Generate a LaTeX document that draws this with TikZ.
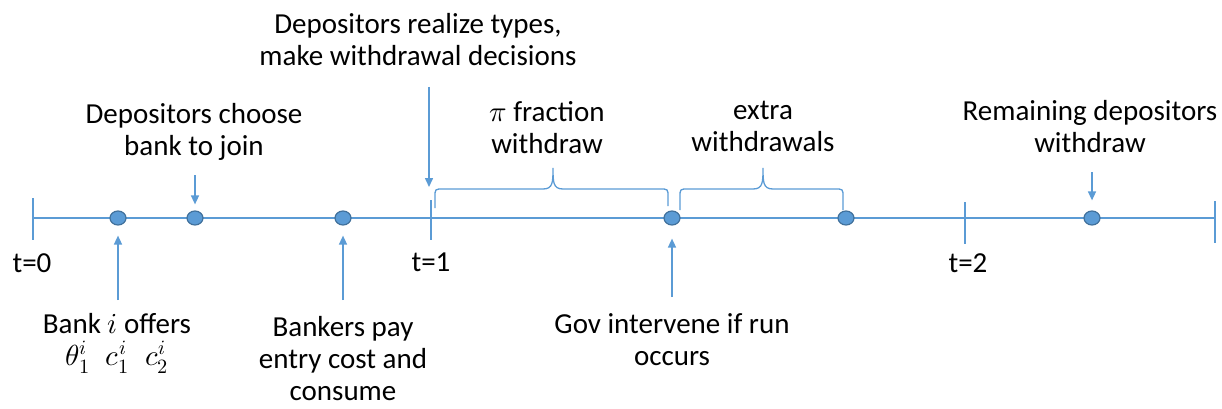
\documentclass[tikz,border=0pt]{standalone}
\usepackage{fontspec}
\usepackage{unicode-math}
\setmainfont{Carlito}
\setmathfont{Latin Modern Math}
\usetikzlibrary{arrows.meta,shapes.geometric}
\definecolor{tlblue}{HTML}{5B9BD5}
\definecolor{dotedge}{HTML}{41719C}
\begin{document}
\begin{tikzpicture}[x=1pt,y=-1pt,
  line/.style={draw=tlblue,line width=1.5pt},
  arr/.style={line,-{Triangle[width=8pt,length=9pt]}},
  dot/.style={ellipse,fill=tlblue,draw=dotedge,line width=1.2pt,minimum width=16pt,minimum height=14pt,inner sep=0pt},
  lbl/.style={font=\fontsize{29}{32}\selectfont,align=center,inner sep=0pt,anchor=north},
  wbrace/.style={draw=tlblue,line width=1.3pt}]
\useasboundingbox (0,0) rectangle (1222,409);
% timeline
\coordinate (L) at (33,218);
\coordinate (R) at (1215,218);
\draw[line] (L) -- (R);
% ticks
\coordinate (t0a) at (33,198); \coordinate (t0b) at (33,240);
\coordinate (t1a) at (431,200); \coordinate (t1b) at (431,240);
\coordinate (t2a) at (965,202); \coordinate (t2b) at (965,244);
\coordinate (tea) at (1215,201); \coordinate (teb) at (1215,243);
\draw[line] (t0a) -- (t0b);
\draw[line] (t1a) -- (t1b);
\draw[line] (t2a) -- (t2b);
\draw[line] (tea) -- (teb);
% braces
\draw[wbrace] (435,208) -- (435,197) .. controls (435,189) .. (443,189) -- (543,189)
  .. controls (553,189) and (553,182) .. (553,168)
  .. controls (553,182) and (553,189) .. (563,189) -- (660,189)
  .. controls (668,189) .. (668,197) -- (668,206);
\draw[wbrace] (680,210) -- (680,197) .. controls (680,189) .. (688,189) -- (753,189)
  .. controls (763,189) and (763,182) .. (763,168)
  .. controls (763,182) and (763,189) .. (773,189) -- (835,189)
  .. controls (843,189) .. (843,197) -- (843,210);
% dots
\node[dot] (d1) at (118,218) {};
\node[dot] (d2) at (195,218) {};
\node[dot] (d3) at (343,218) {};
\node[dot] (d4) at (672,218) {};
\node[dot] (d5) at (846,218) {};
\node[dot] (d6) at (1092,218) {};
% arrows
\coordinate (a1) at (118,300);
\coordinate (a2) at (195,175);
\coordinate (a3) at (343,300);
\coordinate (a4) at (672,297);
\coordinate (a6) at (1092,172);
\coordinate (atop) at (429,87);
\coordinate (abot) at (429,187);
\draw[arr,shorten >=10pt] (a1) -- (d1.south);
\draw[arr,shorten >=6pt] (a2) -- (d2.north);
\draw[arr,shorten >=10pt] (a3) -- (d3.south);
\draw[arr,shorten >=13pt] (a4) -- (d4.south);
\draw[arr,shorten >=10pt] (a6) -- (d6.north);
\draw[arr] (atop) -- (abot);
% labels
\node[lbl] (dec) at (418,13) {Depositors realize types,\\make withdrawal decisions};
\node[lbl] (cho) at (194,103) {Depositors choose\\bank to join};
\node[lbl] (pif) at (547,101) {$\pi$ fraction\\withdraw};
\node[lbl] (ext) at (763,101) {extra\\withdrawals};
\node[lbl] (rem) at (1090,100) {Remaining depositors\\withdraw};
\node[lbl] (l0) at (32,253) {t=0};
\node[lbl] (l1) at (431,253) {t=1};
\node[lbl] (l2) at (968,253) {t=2};
\node[lbl] (bank) at (117,313) {Bank $i$ offers\\$\theta_1^i\;\;c_1^i\;\;c_2^i$};
\node[lbl] (bkr) at (343,316) {Bankers pay\\entry cost and\\consume};
\node[lbl] (gov) at (672,313) {Gov intervene if run\\occurs};
\end{tikzpicture}
\end{document}
